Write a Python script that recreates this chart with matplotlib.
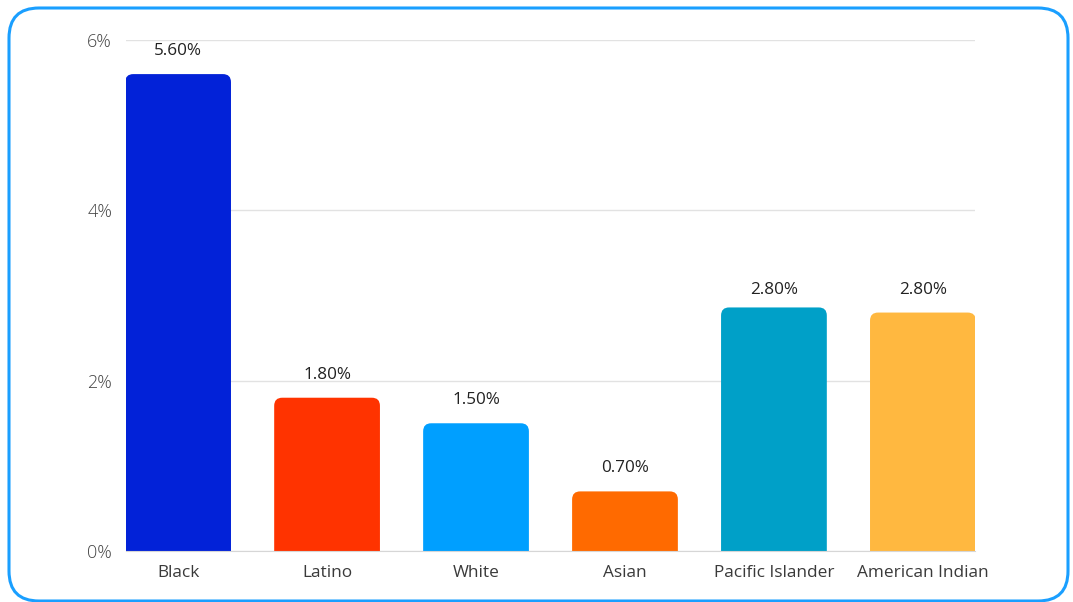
import matplotlib.pyplot as plt
from matplotlib.patches import FancyBboxPatch

plt.rcParams['font.family'] = ['Open Sans', 'DejaVu Sans']

# data
groups = ["Black", "Latino", "White", "Asian", "Pacific Islander", "American Indian"]
bar_heights = [5.6, 1.8, 1.5, 0.7, 2.86, 2.8]
label_values = [5.6, 1.8, 1.5, 0.7, 2.8, 2.8]
colors = ["#0222D8", "#FF3300", "#009FFF", "#FF6A00", "#00A0C8", "#FFB840"]
yticks = [0, 2, 4, 6]

fig = plt.figure(figsize=(10.73, 6.02), dpi=100)
ax = fig.add_axes([0.1174, 0.0847, 0.7913, 0.8488])

xs = list(range(len(groups)))
bars = ax.bar(xs, bar_heights, width=0.71, color=colors)

# swap plain bars for ones with rounded top corners
r = 0.054
for b, c in zip(bars, colors):
    b.set_visible(False)
    p = FancyBboxPatch((b.get_x(), -0.5), b.get_width(), b.get_height() + 0.5,
                       boxstyle="round,pad=0,rounding_size=%f" % r,
                       mutation_aspect=1.75, facecolor=c, edgecolor="none",
                       zorder=3, clip_on=True)
    ax.add_patch(p)

for x, v in zip(xs, label_values):
    ax.annotate("%.2f%%" % v, (x, v), xytext=(0, 15), textcoords="offset pixels",
                ha="center", va="bottom", fontsize=12.3, color="#222222", zorder=4)

ax.set_xlim(-0.35, 5.35)
ax.set_ylim(0, 6)
ax.set_yticks(yticks)
ax.set_yticklabels(["%d%%" % t for t in yticks], fontsize=13, color="#444444",
                   fontweight="light")
ax.set_xticks(xs)
ax.set_xticklabels(groups, fontsize=12.4, color="#3a3a3a")
ax.tick_params(axis="both", length=0)
ax.tick_params(axis="y", pad=10)
ax.tick_params(axis="x", pad=10)
for s in ["top", "right", "left"]:
    ax.spines[s].set_visible(False)
ax.spines["bottom"].set_color("#d6d6d6")
ax.spines["bottom"].set_zorder(5)
ax.grid(axis="y", color="#e2e2e2", linewidth=1)
ax.set_axisbelow(True)

# rounded blue frame round the whole card
frame = FancyBboxPatch((9, 1), 1059, 593, boxstyle="round,pad=0,rounding_size=30",
                       transform=None, facecolor="none", edgecolor="#1A9FFF",
                       linewidth=2.2, zorder=10)
fig.patches.append(frame)

fig.savefig("out.png", dpi=100)
